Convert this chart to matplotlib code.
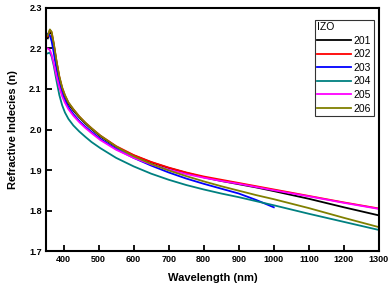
import matplotlib
matplotlib.use("Agg")
import matplotlib.pyplot as plt

plt.rcParams['font.family'] = ['Liberation Sans', 'DejaVu Sans']

# wavelength grid (nm)
wl = [355, 361, 366, 372, 380, 388, 396, 404, 414, 428, 445, 462, 480, 505,
      550, 600, 650, 700, 750, 800, 850, 900, 950, 1000, 1100, 1200, 1300]

n201 = [2.225, 2.240, 2.236, 2.208, 2.165, 2.127, 2.100, 2.081, 2.063, 2.047,
        2.030, 2.015, 2.001, 1.983, 1.957, 1.936, 1.919, 1.905, 1.893, 1.882,
        1.873, 1.865, 1.857, 1.848, 1.829, 1.808, 1.788]
n202 = [2.230, 2.246, 2.240, 2.212, 2.168, 2.130, 2.103, 2.084, 2.066, 2.050,
        2.032, 2.017, 2.003, 1.985, 1.959, 1.937, 1.920, 1.906, 1.894, 1.884,
        1.876, 1.868, 1.860, 1.852, 1.836, 1.820, 1.805]
n203 = [2.236, 2.232, 2.218, 2.190, 2.148, 2.113, 2.089, 2.072, 2.055, 2.038,
        2.021, 2.007, 1.994, 1.977, 1.952, 1.930, 1.911, 1.894, 1.879, 1.866,
        1.854, 1.842, 1.826, 1.808]
n204 = [2.188, 2.190, 2.180, 2.158, 2.120, 2.085, 2.060, 2.042, 2.026, 2.010,
        1.995, 1.982, 1.969, 1.954, 1.930, 1.909, 1.891, 1.876, 1.863, 1.852,
        1.842, 1.833, 1.823, 1.813, 1.792, 1.772, 1.752]
n205 = [2.200, 2.196, 2.185, 2.163, 2.132, 2.104, 2.082, 2.066, 2.050, 2.034,
        2.018, 2.004, 1.991, 1.974, 1.950, 1.930, 1.914, 1.901, 1.890, 1.881,
        1.873, 1.866, 1.858, 1.850, 1.835, 1.819, 1.804]
n206 = [2.232, 2.247, 2.241, 2.213, 2.169, 2.131, 2.104, 2.085, 2.067, 2.050,
        2.032, 2.017, 2.003, 1.985, 1.958, 1.934, 1.915, 1.899, 1.885, 1.872,
        1.860, 1.849, 1.838, 1.828, 1.806, 1.782, 1.759]

labels = ["201", "202", "203", "204", "205", "206"]
colors = ["black", "red", "blue", "#008080", "#ff00ff", "#808000"]
series = [n201, n202, n203, n204, n205, n206]

fig = plt.figure(figsize=(3.88, 2.95), dpi=100)
ax = fig.add_axes([0.1186, 0.149, 0.858, 0.824])

for lab, col, ys in zip(labels, colors, series):
    ax.plot(wl[:len(ys)], ys, color=col, lw=1.3, label=lab)

ax.set_xlim(350, 1300)
ax.set_ylim(1.7, 2.3)
ax.set_xticks(range(400, 1301, 100))
ax.set_yticks([1.7, 1.8, 1.9, 2.0, 2.1, 2.2, 2.3])
ax.yaxis.set_major_formatter(matplotlib.ticker.FormatStrFormatter('%.1f'))
ax.tick_params(direction='in', length=4, width=1.3, labelsize=6.5, pad=3)
for t in ax.get_xticklabels() + ax.get_yticklabels():
    t.set_fontweight('bold')
for s in ax.spines.values():
    s.set_linewidth(1.5)

ax.set_xlabel('Wavelength (nm)', fontsize=8, fontweight='bold', labelpad=6)
ax.set_ylabel('Refractive Indecies (n)', fontsize=8, fontweight='bold', labelpad=8)

leg = ax.legend(title='IZO', loc='upper right', bbox_to_anchor=(0.99, 0.96),
                fontsize=7.5, title_fontsize=7.5, frameon=True, fancybox=False,
                edgecolor='black', handlelength=3.2, handletextpad=0.3,
                labelspacing=0.35, borderpad=0.2, borderaxespad=0.2,
                alignment='left')
leg.get_frame().set_linewidth(0.8)

fig.savefig('out.png', dpi=100)
